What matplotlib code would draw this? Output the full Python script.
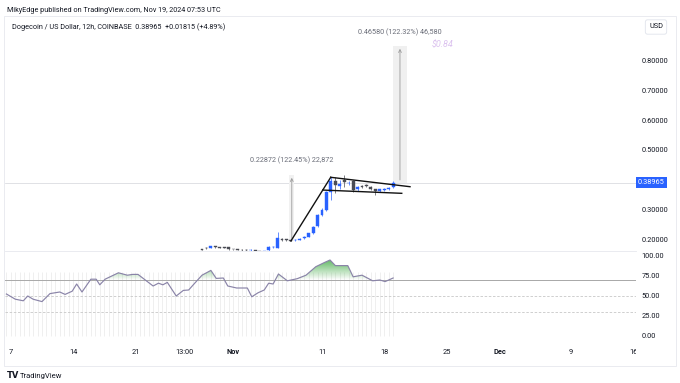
import numpy as np
import matplotlib.pyplot as plt
import matplotlib.transforms as mtransforms
from matplotlib.path import Path
from matplotlib.patches import PathPatch, Rectangle
from matplotlib.colors import LinearSegmentedColormap

plt.rcParams['font.family'] = ['Roboto', 'DejaVu Sans']

# 12h candles, t = day number counted from Oct 0 (Nov 1 = 32)
candle_t = [28.5, 29.0, 29.5, 30.0, 30.5, 31.0, 31.5, 32.0, 32.5, 33.0, 33.5, 34.0, 34.5, 35.0, 35.5,
            36.0, 36.5, 37.0, 37.5, 38.0, 38.5, 39.0, 39.5, 40.0, 40.5, 41.0, 41.5, 42.0, 42.5,
            43.0, 43.5, 44.0, 44.5, 45.0, 45.5, 46.0, 46.5, 47.0, 47.5, 48.0, 48.5, 49.0, 49.5, 50.0]
candle_open = [0.166, 0.171, 0.171, 0.175, 0.172, 0.172, 0.172, 0.166, 0.165, 0.164, 0.163, 0.162, 0.162, 0.158, 0.156,
               0.163, 0.172, 0.171, 0.200, 0.199, 0.196, 0.195, 0.198, 0.202, 0.208, 0.219, 0.243, 0.281, 0.298,
               0.359, 0.397, 0.378, 0.399, 0.388, 0.397, 0.368, 0.378, 0.382, 0.376, 0.367, 0.363, 0.366, 0.368, 0.374]
candle_close = [0.164, 0.170, 0.176, 0.172, 0.171, 0.171, 0.166, 0.165, 0.164, 0.163, 0.162, 0.163, 0.161, 0.156, 0.158,
                0.173, 0.174, 0.204, 0.197, 0.196, 0.194, 0.198, 0.201, 0.208, 0.219, 0.241, 0.281, 0.298, 0.359,
                0.397, 0.382, 0.384, 0.392, 0.390, 0.365, 0.376, 0.376, 0.379, 0.370, 0.363, 0.367, 0.369, 0.373, 0.38965]
candle_high = [0.168, 0.173, 0.178, 0.177, 0.174, 0.174, 0.173, 0.168, 0.167, 0.166, 0.165, 0.165, 0.164, 0.160, 0.160,
               0.175, 0.176, 0.2226, 0.203, 0.201, 0.198, 0.200, 0.203, 0.210, 0.221, 0.244, 0.285, 0.305, 0.362,
               0.409, 0.410, 0.400, 0.416, 0.395, 0.400, 0.380, 0.382, 0.384, 0.378, 0.369, 0.370, 0.372, 0.376, 0.395]
candle_low = [0.162, 0.168, 0.169, 0.170, 0.169, 0.169, 0.164, 0.163, 0.162, 0.161, 0.160, 0.160, 0.158, 0.154, 0.154,
              0.161, 0.170, 0.169, 0.194, 0.193, 0.193, 0.193, 0.196, 0.200, 0.206, 0.217, 0.240, 0.278, 0.295,
              0.331, 0.355, 0.370, 0.375, 0.383, 0.360, 0.362, 0.372, 0.376, 0.366, 0.348, 0.360, 0.362, 0.364, 0.372]

# RSI
rsi_t = [6.5, 7.5, 8.4, 8.9, 9.5, 10.5, 11.4, 12.5, 13.1, 13.9, 14.4, 15.0, 16.0, 16.6, 17.0, 17.6, 19.1,
         20.1, 20.7, 21.3, 23.0, 23.6, 24.1, 24.6, 25.6, 26.4, 27.0, 27.6, 28.5, 29.5, 30.1, 30.9, 31.4,
         32.4, 33.6, 34.1, 34.8, 35.5, 36.0, 36.5, 37.1, 38.1, 39.2, 40.2, 41.3, 42.3, 42.9, 43.5, 44.9,
         45.5, 46.5, 47.7, 48.5, 49.1, 50.0]
rsi_val = [52.5, 46, 44, 50, 46, 43, 53, 55, 52, 56, 65, 55, 71, 71, 64, 71, 79,
           76, 77, 77, 62.5, 66, 64, 67, 50, 57, 57.5, 65, 76, 82, 72, 72.5, 62.5,
           60, 60, 49, 54, 57.5, 66, 65, 77.5, 69, 71.6, 76, 86.6, 92, 95, 88, 88,
           74, 76, 69, 70, 68, 72.5]
bar_t = np.arange(6.5, 50.01, 0.5)

price_ticks = [0.2, 0.3, 0.4, 0.5, 0.6, 0.7, 0.8]
price_labels = ['0.20000', '0.30000', '', '0.50000', '0.60000', '0.70000', '0.80000']
rsi_ticks = [0, 25, 50, 75, 100]
rsi_labels = ['0.00', '25.00', '50.00', '75.00', '100.00']
date_pos = [7, 14, 21, 26.5, 32, 42, 49, 56, 62, 70, 77]
date_lbl = ['7', '14', '21', '13:00', 'Nov', '11', '18', '25', 'Dec', '9', '16']
last_price = 0.38965

# flag pattern drawn on the chart
pole_t = [38.5, 42.98]
pole_p = [0.1933, 0.408]
upper_t = [42.98, 51.9]
upper_p = [0.408, 0.3763]
lower_t = [42.08, 50.97]
lower_p = [0.365, 0.354]

W, H = 680, 383
def box(x0, y0, x1, y1):
    return [x0 / W, 1 - y1 / H, (x1 - x0) / W, (y1 - y0) / H]

fig = plt.figure(figsize=(6.8, 3.83), dpi=100)
txt = '#131722'
grey = '#6a6d78'

ax = fig.add_axes(box(5, 16, 636, 251))
rs = fig.add_axes(box(5, 251, 636, 342))
tx = fig.add_axes(box(5, 342, 636, 365))
xlim = (6.34, 77.32)

for a in (ax, rs, tx):
    a.set_xlim(*xlim)
    for s in a.spines.values():
        s.set_visible(False)
    a.set_xticks([])
    a.set_facecolor('none')

# price pane
ax.set_ylim(0.1596, 0.9516)
ax.axhline(last_price, color='#d3d5da', lw=0.5, zorder=0)
for t, o, h, l, c in zip(candle_t, candle_open, candle_high, candle_low, candle_close):
    col = '#2962ff' if c >= o else '#4a4c54'
    ax.vlines(t, l, h, color=col, lw=0.5, zorder=2)
    ax.bar(t, c - o, bottom=o, width=0.32, color=col, edgecolor=col, lw=0.3, zorder=3)

ax.plot(pole_t, pole_p, color='#111111', lw=1.0, zorder=4)
ax.plot(upper_t, upper_p, color='#111111', lw=1.0, zorder=4)
ax.plot(lower_t, lower_p, color='#111111', lw=1.0, zorder=4)

# measuring tools
ax.add_patch(Rectangle((38.3, 0.193), 0.6, 0.2227, color='#f1f1f1', lw=0, zorder=1))
ax.annotate('', xy=(38.6, 0.4157), xytext=(38.6, 0.193),
            arrowprops=dict(arrowstyle='->', color='#9a9a9a', lw=0.6, mutation_scale=5), zorder=1)
ax.text(38.6, 0.466, '0.22872 (122.45%) 22,872', ha='center', va='center', fontsize=5.2, color=grey)
ax.add_patch(Rectangle((50.0, last_price), 1.56, 0.8505 - last_price, color='#f0f0f0', lw=0, zorder=1))
ax.annotate('', xy=(50.77, 0.8505), xytext=(50.77, last_price),
            arrowprops=dict(arrowstyle='->', color='#9a9a9a', lw=0.6, mutation_scale=5), zorder=1)
ax.text(50.77, 0.8977, '0.46580 (122.32%) 46,580', ha='center', va='center', fontsize=5.2, color=grey)
ax.text(55.6, 0.854, '$0.84', ha='center', va='center', fontsize=6.5, color='#dcc3ef', style='italic')

ax.yaxis.tick_right()
ax.set_yticks(price_ticks)
ax.set_yticklabels(price_labels)
ax.tick_params(axis='y', length=0, pad=4, labelsize=5.3, labelcolor=txt)
yt = mtransforms.blended_transform_factory(ax.transAxes, ax.transData)
ax.text(1.003, last_price, '0.38965', transform=yt, ha='left', va='center', fontsize=5.3, color='white',
        bbox=dict(boxstyle='square,pad=0.3', fc='#2962ff', ec='none'))

# RSI pane
rs.set_ylim(-7.5, 106.25)
rs.vlines(bar_t, 0, 80, color='#e3e3e3', lw=0.4, zorder=0)
rs.axhline(70, color='#a8a8a8', lw=0.7, zorder=1)
rs.axhline(50, color='#c8c8c8', lw=0.6, ls=(0, (3, 2)), zorder=1)
rs.axhline(30, color='#c8c8c8', lw=0.6, ls=(0, (3, 2)), zorder=1)
r = np.array(rsi_val)
fill = rs.fill_between(rsi_t, 70, r, where=r > 70, interpolate=True, color='none', lw=0)
clip = Path.make_compound_path(*fill.get_paths())
cmap = LinearSegmentedColormap.from_list('g', [(0.30, 0.69, 0.31, 0.0), (0.30, 0.69, 0.31, 0.9)])
grad = np.linspace(0, 1, 100).reshape(-1, 1)
im = rs.imshow(grad, extent=[6, 51, 70, 96], origin='lower', aspect='auto', cmap=cmap, zorder=2)
im.set_clip_path(PathPatch(clip, transform=rs.transData))
rs.plot(rsi_t, rsi_val, color='#8a84a8', lw=0.85, zorder=3)
rs.set_xlim(*xlim)
rs.set_ylim(-7.5, 106.25)
rs.yaxis.tick_right()
rs.set_yticks(rsi_ticks)
rs.set_yticklabels(rsi_labels)
rs.tick_params(axis='y', length=0, pad=4, labelsize=5.3, labelcolor=txt)

# time axis
tx.set_ylim(0, 1)
tx.set_yticks([])
for p, s in zip(date_pos, date_lbl):
    bold = s in ('Nov', 'Dec')
    tx.text(p, 0.55, s, ha='center', va='center', fontsize=5.3, color=txt,
            fontweight='bold' if bold else 'normal', clip_on=True)

# frame and separators
fig.add_artist(Rectangle((4 / W, 1 - 366 / H), 672 / W, 350 / H, transform=fig.transFigure,
                         fill=False, ec='#e6e8ee', lw=0.6))
fig.add_artist(plt.Line2D([5 / W, 636 / W], [1 - 251 / H] * 2, transform=fig.transFigure,
                          color='#e6e8ee', lw=0.6))

fig.text(7 / W, 1 - 10 / H, 'MikyEdge published on TradingView.com, Nov 19, 2024 07:53 UTC',
         fontsize=5.2, color=txt, va='center')
fig.text(12 / W, 1 - 27 / H, 'Dogecoin / US Dollar, 12h, COINBASE  0.38965  +0.01815 (+4.89%)',
         fontsize=5.2, color=txt, va='center')
fig.text(656 / W, 1 - 27 / H, 'USD', fontsize=5.3, color=txt, ha='center', va='center',
         bbox=dict(boxstyle='round,pad=0.5,rounding_size=0.3', fc='white', ec='#e0e3eb', lw=0.6))
fig.text(7 / W, 1 - 376 / H, 'TV', fontsize=6, fontweight='bold', color=txt, va='center', family='DejaVu Sans')
fig.text(20 / W, 1 - 376 / H, 'TradingView', fontsize=5.5, color=txt, va='center')

fig.savefig('out.png', dpi=100)
